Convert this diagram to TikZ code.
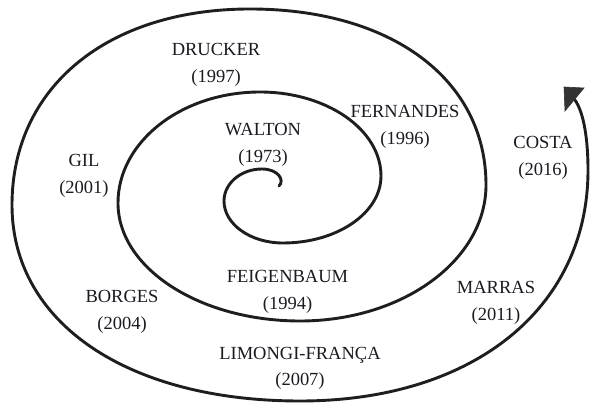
\documentclass[tikz,border=0pt]{standalone}
\usepackage{fontspec}
\setmainfont{Liberation Serif}
\definecolor{ink}{HTML}{1E1E1E}
\definecolor{headink}{HTML}{333333}
\definecolor{txt}{HTML}{1A1A22}
\tikzset{
  spiral/.style={draw=ink, line width=2.9pt, line cap=round},
  headshape/.style={fill=headink, draw=headink, line width=0.6pt, line join=miter},
  lbl/.style={text=txt, align=center, inner sep=0pt,
    font=\fontsize{18.5}{26.5}\selectfont}
}
\begin{document}
\begin{tikzpicture}[x=1pt,y=-1pt]
\useasboundingbox (0,0) rectangle (590,403);
\fill[white] (0,0) rectangle (590,403);
\coordinate (tip0) at (279,186);
\coordinate (tailend) at (575,100);
\coordinate (h1) at (564,87);
\coordinate (h2) at (584,88);
\coordinate (h3) at (565,111);
\draw[spiral]
  (tip0) .. controls (285,180) and (278,169) .. (262,169)
  .. controls (241,169) and (224,183.3) .. (224,201)
  .. controls (224,224.2) and (250.4,243) .. (283,243)
  .. controls (337.1,243) and (381,213) .. (381,176)
  .. controls (381,129.6) and (326.8,92) .. (260,92)
  .. controls (181.6,92) and (118,141.7) .. (118,203)
  .. controls (118,268.1) and (199.5,321) .. (300,321)
  .. controls (402.7,321) and (486,260.1) .. (486,185)
  .. controls (486,79.4) and (391.6,9) .. (250,9)
  .. controls (107.2,9) and (12,87.4) .. (12,205)
  .. controls (12,322.6) and (127.2,401) .. (300,401)
  .. controls (472.8,401) and (588,308.6) .. (588,170)
  .. controls (588,140) and (584,113) .. (tailend);
\fill[headshape] (h1) -- (h2) -- (h3) -- cycle;
\node[lbl] (drucker) at (216,65) {DRUCKER\\(1997)};
\node[lbl] (walton) at (263,145) {WALTON\\(1973)};
\node[lbl] (fernandes) at (405,127) {FERNANDES\\(1996)};
\node[lbl] (costa) at (543,158) {COSTA\\(2016)};
\node[lbl] (gil) at (84,176) {GIL\\(2001)};
\node[lbl] (borges) at (122,312) {BORGES\\(2004)};
\node[lbl] (feigenbaum) at (287.5,292) {FEIGENBAUM\\(1994)};
\node[lbl] (marras) at (496,303) {MARRAS\\(2011)};
\node[lbl] (limongi) at (300,368.5) {LIMONGI-FRANÇA\\(2007)};
\end{tikzpicture}
\end{document}
